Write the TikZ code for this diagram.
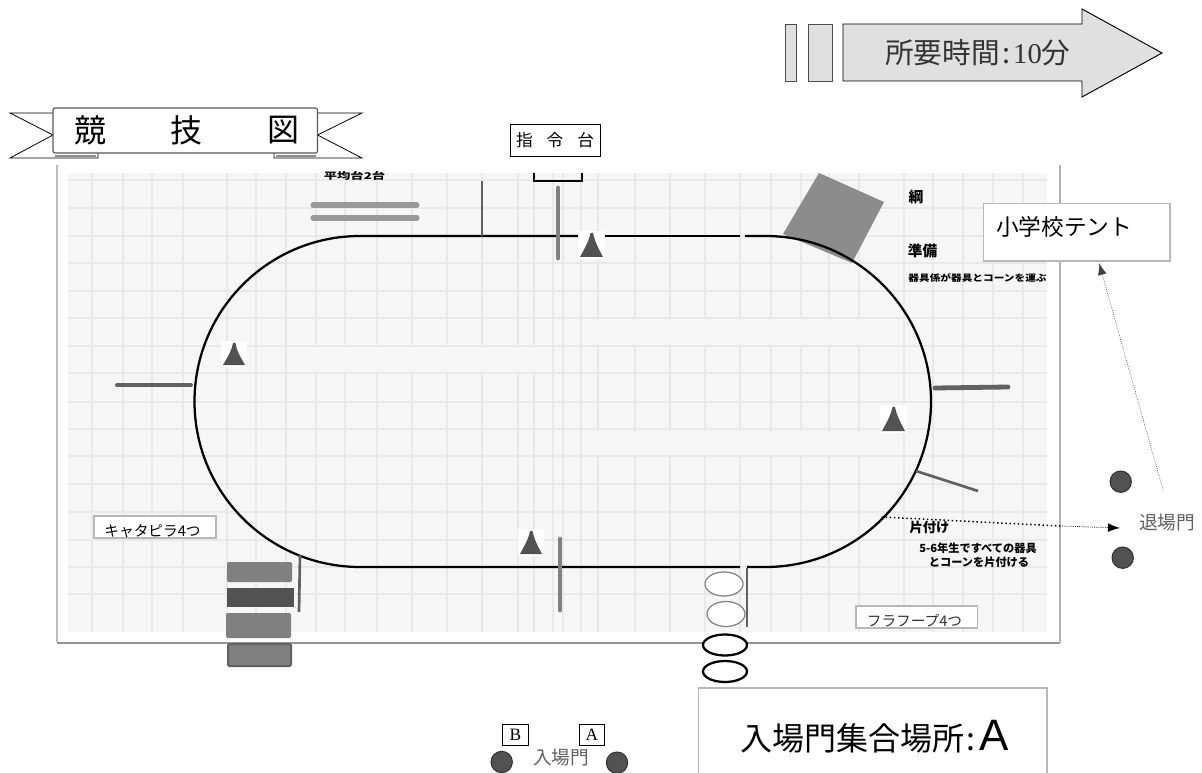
\documentclass[tikz,border=0pt]{standalone}
\usepackage{fontspec}
\setmainfont{Noto Sans CJK JP}
\newfontfamily\latinfont{Liberation Serif}
\newfontfamily\headfont{Liberation Sans}
\usetikzlibrary{arrows.meta}
\newcommand{\jpsize}[1]{\fontsize{#1}{#1}\selectfont}
\definecolor{panelbg}{HTML}{F6F6F6}
\definecolor{gridgray}{HTML}{E9E9E9}
\tikzset{
  gridline/.style={draw=gridgray,line width=0.9pt},
  trackline/.style={draw=black,line width=1.7pt},
  cone/.style={fill=black!68},
  conebg/.style={fill=white},
  pole/.style={draw=black!50,line width=3.6pt,line cap=round},
  thinpole/.style={draw=black!62,line width=2pt},
  block/.style={fill=black!50,rounded corners=1pt},
  gatepost/.style={circle,draw=black!80,fill=black!68,line width=0.8pt,minimum size=16pt,inner sep=0pt},
  hoop/.style={draw=black!50,fill=white,line width=0.9pt},
  hoopdark/.style={draw=black,fill=white,line width=1.7pt},
  labelbox/.style={draw=black!28,fill=white,line width=1pt,inner sep=0pt,text depth=0pt},
  smallbox/.style={draw=black,fill=white,line width=0.6pt,inner sep=0pt,minimum width=19pt,minimum height=16pt},
  blobtext/.style={inner sep=0pt,font=\bfseries},
}

\begin{document}
\begin{tikzpicture}[x=0.75pt,y=0.75pt,yscale=-1,xscale=1]
\useasboundingbox (0,0) rectangle (1202,773);

%Panel
\fill [panelbg] (68,173) rectangle (1047,632);
%Grid Lines
\draw [gridline] (68,180) -- (1047,180) (68,208) -- (1047,208) (68,236) -- (1047,236) (68,263) -- (1047,263)
  (68,291) -- (1047,291) (68,318) -- (1047,318) (68,346) -- (1047,346) (68,373) -- (1047,373)
  (68,402) -- (1047,402) (68,429) -- (1047,429) (68,456) -- (1047,456) (68,484) -- (1047,484)
  (68,512) -- (1047,512) (68,540) -- (1047,540) (68,567) -- (1047,567) (68,594) -- (1047,594);
\draw [gridline] (92,173) -- (92,632) (123,173) -- (123,632) (152,173) -- (152,632) (183,173) -- (183,632)
  (227,173) -- (227,632) (256,173) -- (256,632) (286,173) -- (286,632) (316,173) -- (316,632)
  (345,173) -- (345,632) (377,173) -- (377,632) (412,173) -- (412,632) (447,173) -- (447,632)
  (482,173) -- (482,632) (518,173) -- (518,632) (534,173) -- (534,632) (553,173) -- (553,632)
  (563,173) -- (563,632) (581,173) -- (581,632) (598,173) -- (598,632) (635,173) -- (635,632)
  (670,173) -- (670,632) (705,173) -- (705,632) (740,173) -- (740,632) (771,173) -- (771,632)
  (801,173) -- (801,632) (829,173) -- (829,632) (859,173) -- (859,632) (904,173) -- (904,632)
  (933,173) -- (933,632) (963,173) -- (963,632) (993,173) -- (993,632) (1023,173) -- (1023,632);
%Grid Gaps
\fill [panelbg] (290,347.5) rectangle (552,372);
\fill [panelbg] (584,319.5) rectangle (900,345);
\fill [panelbg] (584,430.5) rectangle (900,455);
%Panel Border
\draw [black!25,line width=1.2pt] (57,165) -- (57,642);
\draw [black!42,line width=1.5pt] (57,643) -- (1060,643);
\draw [black!30,line width=1.5pt] (1060,165) -- (1060,643);

%Balance Beams
\draw [draw=black!40,line width=3.8pt,line cap=round] (313,205) -- (417,205);
\draw [draw=black!40,line width=3.8pt,line cap=round] (313,218) -- (417,218);

%Rotated Square
\fill [black!45] (819,173) -- (884,202) -- (852,263) -- (783,234) -- cycle;

%Track
\draw [trackline] (745,236) -- (765.5,236) arc [start angle=-90,end angle=90,radius=165.5] -- (747,567);
\draw [trackline] (740,567) -- (360,567) arc [start angle=90,end angle=270,radius=165.5] -- (578,236);
\draw [trackline] (604,236) -- (740,236);

%Poles
\draw [thinpole] (482,181) -- (482,236);
\draw [pole] (558,188) -- (558,258);
\draw [draw=black!62,line width=3pt,line cap=round] (117,385) -- (191,385);
\draw [draw=black!62,line width=3.6pt,line cap=round] (935,388) -- (1008,387);
\draw [thinpole] (916,471) -- (978,491);
\draw [pole] (560,539) -- (560,610);
\draw [thinpole] (300,555) -- (299,612);
\draw [thinpole] (747,568) -- (747,627);

%Bracket
\draw [draw=black,line width=1.5pt] (533.5,173) -- (533.5,181) -- (582,181) -- (582,173);

%Cones
\fill [conebg] (221,341) rectangle (247,367);
\fill [cone] (233,343) .. controls (231,353) and (226,359) .. (223,365) -- (245,365) .. controls (242,359) and (237,353) .. (235.5,343) -- cycle;
\fill [conebg] (578,231) rectangle (605,259);
\fill [cone] (590.5,233) .. controls (588.5,243) and (583,251) .. (580,257) -- (603,257) .. controls (600,251) and (595,243) .. (593,233) -- cycle;
\fill [conebg] (880,405) rectangle (907,433);
\fill [cone] (892.5,407) .. controls (890.5,417) and (885,425) .. (882,431) -- (905,431) .. controls (902,425) and (897,417) .. (895,407) -- cycle;
\fill [conebg] (518,529) rectangle (544,556);
\fill [cone] (530,531) .. controls (528,541) and (523,548) .. (520,554) -- (542,554) .. controls (539,548) and (534.5,541) .. (532.5,531) -- cycle;

%Blocks
\fill [block] (227,562) rectangle (292,582);
\fill [black!68] (227,588) rectangle (294,607);
\fill [block] (226,613) rectangle (291,638);
\draw [fill=black!50,draw=black!62,line width=1.5pt,rounded corners=1pt] (228,644) rectangle (291,666);

%Hoops
\draw [hoop] (724,584) ellipse [x radius=19,y radius=12];
\draw [hoop] (726,614) ellipse [x radius=19,y radius=12.5];
\draw [hoopdark] (725,645) ellipse [x radius=22,y radius=10.5];
\draw [hoopdark] (725,671.5) ellipse [x radius=22,y radius=10.5];

%Ribbon Title
\draw [draw=black,line width=0.6pt] (53,113) -- (10,113) -- (53,135) -- (10,158) -- (98,158) -- (98,153);
\draw [draw=black,line width=0.6pt] (317.5,113) -- (362,113) -- (317.5,135) -- (362,158) -- (274,158) -- (274,153);
\draw [draw=black!65,fill=white,line width=0.9pt,rounded corners=1.5pt] (53,108) rectangle (317.5,153);
\draw [black!45,line width=0.8pt] (55,156) -- (96,156) (276,156) -- (316,156);

%Time Arrow
\draw [fill=black!12,draw=black!70,line width=0.6pt] (785.7,24) rectangle (796.7,81);
\draw [fill=black!12,draw=black!70,line width=0.6pt] (808,24) rectangle (832,81);
\draw [fill=black!12,draw=black,line width=0.7pt] (843,24) -- (1082,24) -- (1082,9) -- (1162,53) -- (1082,97) -- (1082,81) -- (843,81) -- cycle;

%Assembly Box
\draw [draw=black!28,line width=1pt] (698.5,773) -- (698.5,688) -- (1047,688) -- (1047,773);

% Text Node
\node (timelabel) at (885,64) [anchor=base west,inner sep=0pt,text=black!80] {\jpsize{21.5pt}所要時間\hspace{2pt}:\hspace{2pt}{\latinfont 10}分};
% Text Node
\node (titleone) at (90,130) [inner sep=0pt] {\jpsize{24pt}競};
\node (titletwo) at (186,130) [inner sep=0pt] {\jpsize{24pt}技};
\node (titlethree) at (283,130) [inner sep=0pt] {\jpsize{24pt}図};
% Text Node
\node (podium) at (555,140) [draw=black,fill=white,line width=0.6pt,inner sep=0pt,minimum width=67.5pt,minimum height=24pt] {\jpsize{12.5pt}指\hspace{10.5pt}令\hspace{10.5pt}台};
% Text Node
\node (beamlabel) at (354.5,176) [blobtext] {\scalebox{1}[0.7]{\jpsize{10pt}平均台2台}};
\node (ropelabel) at (916,197) [blobtext] {\jpsize{11pt}綱};
\node (preplabel) at (922.5,251) [blobtext] {\jpsize{11pt}準備};
\node (prepnote) at (977.5,278) [blobtext] {\scalebox{1}[0.85]{\jpsize{8pt}器具係が器具とコーンを運ぶ}};
\node (clearlabel) at (929.5,527) [blobtext] {\jpsize{10pt}片付け};
\node (clearnote) at (978,548) [blobtext] {\jpsize{8.4pt}5-6年生ですべての器具};
\node (clearnotetwo) at (979,562) [blobtext] {\jpsize{8.4pt}とコーンを片付ける};
% Text Node
\node (tentbox) at (1076.5,232.5) [labelbox,minimum width=140pt,minimum height=43pt] {};
\node (tentlabel) at (1064,227) [inner sep=0pt] {\jpsize{17pt}小学校テント};
% Text Node
\node (caterbox) at (155,527) [labelbox,minimum width=91.5pt,minimum height=16.5pt] {};
\node (caterlabel) at (152.5,531) [inner sep=0pt] {\jpsize{11pt}キャタピラ4つ};
\node (hoopbox) at (916.5,617) [labelbox,minimum width=91pt,minimum height=16.5pt] {};
\node (hooplabel) at (914.5,621) [inner sep=0pt,text=black!80] {\jpsize{11pt}フラフープ4つ};
% Text Node
\node (assemblylabel) at (740,750) [anchor=base west,inner sep=0pt] {\jpsize{24pt}入場門集合場所\hspace{2pt}:\hspace{3pt}{\jpsize{33pt}\headfont A}};
% Text Node
\node (entrylabel) at (561,758) [inner sep=0pt,text=black!62] {\jpsize{14pt}入場門};
\node (boxb) at (515.5,735) [smallbox] {\jpsize{13pt}\latinfont B};
\node (boxa) at (592,735) [smallbox] {\jpsize{13pt}\latinfont A};
\node (entryleft) at (501.7,762) [gatepost] {};
\node (entryright) at (617,762.7) [gatepost] {};
% Text Node
\node (exitlabel) at (1167,523) [inner sep=0pt,text=black!62] {\jpsize{14pt}退場門};
\node (exittop) at (1120.7,481.7) [gatepost] {};
\node (exitbottom) at (1122.7,557.7) [gatepost] {};

%Straight Lines
\coordinate (clearstart) at (881.5,517);
\coordinate (clearmid) at (1060,526);
\coordinate (cleartip) at (1120,528);
\coordinate (tentstart) at (1163,490);
\coordinate (tenttip) at (1099,263);
\draw [black,line width=1.1pt,dotted] (clearstart) -- (clearmid);
\draw [black,line width=0.6pt,densely dotted,-{Latex[length=9pt,width=6.5pt]}] (clearmid) -- (cleartip);
\draw [black!75,line width=0.5pt,densely dotted,-{Latex[length=9pt,width=6.5pt]}] (tentstart) -- (tenttip);

\end{tikzpicture}
\end{document}
